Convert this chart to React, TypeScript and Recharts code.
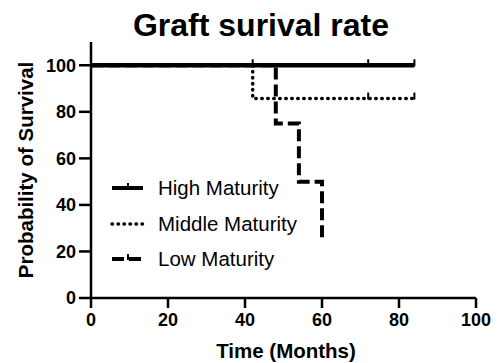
import React from 'react';
import { ComposedChart, Line, XAxis, YAxis, Legend } from 'recharts';

const highMaturity = [
  { t: 0, s: 100, c: 0 },
  { t: 42, s: 100, c: 1 },
  { t: 72, s: 100, c: 1 },
  { t: 84, s: 100, c: 1 },
];
const middleMaturity = [
  { t: 0, s: 100, c: 0 },
  { t: 42, s: 85.7, c: 0 },
  { t: 72, s: 85.7, c: 1 },
  { t: 84, s: 85.7, c: 1 },
];
const lowMaturity = [
  { t: 0, s: 100, c: 0 },
  { t: 48, s: 75, c: 0 },
  { t: 54, s: 50, c: 0 },
  { t: 60, s: 25, c: 0 },
];
const xTicks = [0, 20, 40, 60, 80, 100];
const yTicks = [0, 20, 40, 60, 80, 100];
const seriesNames = ['High Maturity', 'Middle Maturity', 'Low Maturity'];

const FONT = '"Liberation Sans", Arial, sans-serif';

const censorDot = (props: any) => {
  const { cx, cy, payload, index } = props;
  if (!payload || !payload.c) return <g key={`d${index}`} />;
  return (
    <line key={`d${index}`} x1={cx} y1={cy + 1} x2={cx} y2={cy - 6} stroke="#000" strokeWidth={2} />
  );
};

const dashes = ['', '0.5 5.5', '12 5'];

const LegendContent = () => (
  <div style={{ position: 'relative', fontFamily: FONT, fontSize: 20.5, color: '#000', width: 250, height: 110 }}>
    {seriesNames.map((n, i) => (
      <div key={n} style={{ position: 'absolute', left: 0, top: i * 35.5, height: 30, display: 'flex', alignItems: 'center' }}>
        <svg width={46} height={20} style={{ marginRight: 4 }}>
          <line x1={4} y1={10} x2={35} y2={10} stroke="#000" strokeWidth={i === 1 ? 3.5 : 4}
            strokeDasharray={dashes[i] || undefined} strokeLinecap={i === 1 ? 'round' : 'butt'} />
          {i !== 1 && <line x1={20} y1={11} x2={20} y2={5} stroke="#000" strokeWidth={2} />}
        </svg>
        <span style={{ whiteSpace: 'nowrap' }}>{n}</span>
      </div>
    ))}
  </div>
);

export default function App() {
  return (
    <div style={{ position: 'absolute', left: 0, top: 0, width: 498, height: 363, background: '#fff' }}>
      <ComposedChart width={498} height={363} margin={{ top: 42, right: 22, left: 0, bottom: 0 }}>
        <text x={261} y={36} textAnchor="middle" fontFamily={FONT} fontWeight="bold" fontSize={32} fill="#000">
          Graft surival rate
        </text>
        <XAxis
          type="number"
          dataKey="t"
          domain={[0, 100]}
          ticks={xTicks}
          allowDuplicatedCategory={false}
          height={65}
          tickSize={10}
          tickMargin={5}
          stroke="#000"
          strokeWidth={2.5}
          tick={{ fill: '#000', fontFamily: FONT, fontWeight: 'bold', fontSize: 18 }}
          tickLine={{ stroke: '#000', strokeWidth: 2.5 }}
          label={{
            content: () => (
              <text x={286} y={358} textAnchor="middle" fontFamily={FONT} fontWeight="bold" fontSize={20.5} fill="#000">
                Time (Months)
              </text>
            ),
          }}
        />
        <YAxis
          type="number"
          domain={[0, 110]}
          ticks={yTicks}
          width={91}
          tickSize={12}
          tickMargin={3}
          stroke="#000"
          strokeWidth={2.5}
          tick={{ fill: '#000', fontFamily: FONT, fontWeight: 'bold', fontSize: 18 }}
          tickLine={{ stroke: '#000', strokeWidth: 2.5 }}
          label={{
            content: () => (
              <text x={33} y={170} transform="rotate(-90 33 170)" textAnchor="middle" fontFamily={FONT} fontWeight="bold" fontSize={20.5} fill="#000">
                Probability of Survival
              </text>
            ),
          }}
        />
        <Legend
          layout="horizontal"
          verticalAlign="middle"
          align="center"
          content={<LegendContent />}
          wrapperStyle={{ position: 'absolute', left: 108, top: 173, width: 250, height: 110 }}
        />
        <Line data={lowMaturity} dataKey="s" name={seriesNames[2]} type="stepAfter" stroke="#000" strokeWidth={4}
          strokeDasharray="12 5" dot={censorDot} activeDot={false} isAnimationActive={false} />
        <Line data={middleMaturity} dataKey="s" name={seriesNames[1]} type="stepAfter" stroke="#000" strokeWidth={3.5}
          strokeDasharray="0.5 5.5" strokeLinecap="round" dot={censorDot} activeDot={false} isAnimationActive={false} />
        <Line data={highMaturity} dataKey="s" name={seriesNames[0]} type="stepAfter" stroke="#000" strokeWidth={4.5}
          dot={censorDot} activeDot={false} isAnimationActive={false} />
      </ComposedChart>
    </div>
  );
}
